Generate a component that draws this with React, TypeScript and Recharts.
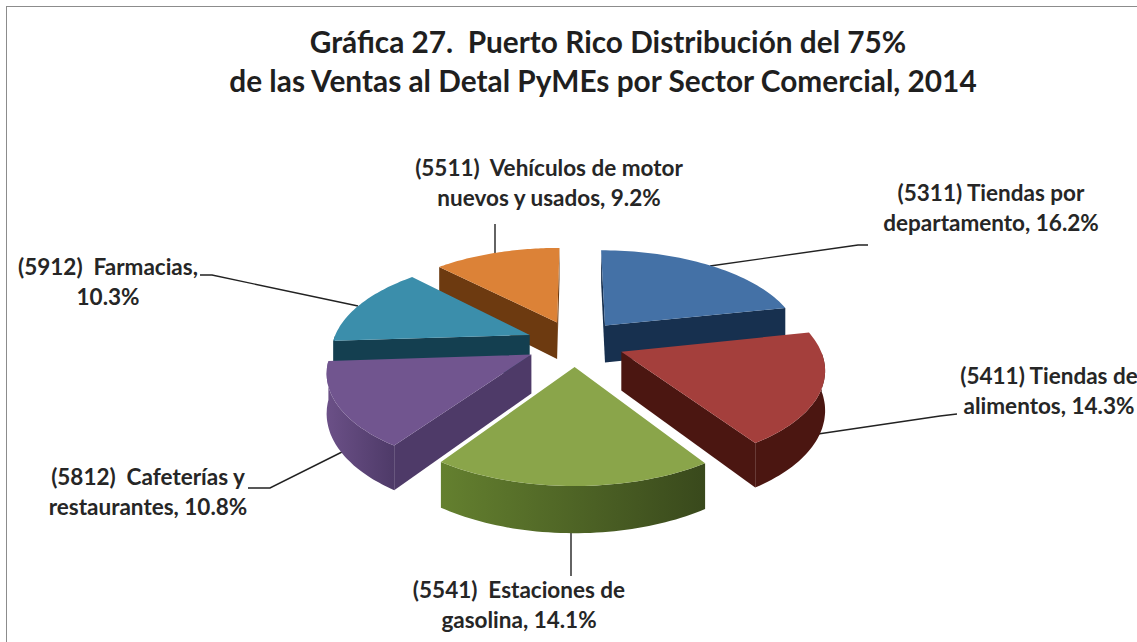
import { PieChart, Pie } from 'recharts';

const CATEGORIES = [
  '(5311) Tiendas por',
  '(5411) Tiendas de',
  '(5541)  Estaciones de',
  '(5812)  Cafeterías y',
  '(5912)  Farmacias,',
  '(5511)  Vehículos de motor',
];
const SECOND_LINES = ['departamento, ', 'alimentos, ', 'gasolina, ', 'restaurantes, ', '', 'nuevos y usados, '];
const VALUES = [16.2, 14.3, 14.1, 10.8, 10.3, 9.2];

const TITLE_LINES = ['Gráfica 27.  Puerto Rico Distribución del 75%', 'de las Ventas al Detal PyMEs por Sector Comercial, 2014'];
const TITLE_SHIFT = [3, -2];

const tableData = CATEGORIES.map((name, i) => ({ name, value: VALUES[i], second: SECOND_LINES[i], index: i }));

// back slices are painted first, the pie is exploded so they overlap
const PAINT_ORDER = [5, 0, 4, 1, 3, 2];

const TOP_COLORS = ['#4471a6', '#a43f3c', '#8aa54a', '#71558f', '#3b8eab', '#dc8237'];
const WALL_COLORS = ['#17304f', '#4b1611', '#4a5f27', '#4e3a68', '#143f50', '#6d3a10'];
const RIM_LEFT = ['#17304f', '#4b1611', '#64802f', '#6b5087', '#143f50', '#6d3a10'];
const RIM_RIGHT = ['#17304f', '#4b1611', '#39491c', '#4e3a68', '#143f50', '#6d3a10'];

// leader lines and where the two label lines are centred
const LEADERS = [
  '710,266 858,245 868,245',
  '818,434 940,416 957,414',
  '571,533 571,576',
  '342,452 270,488 248,488',
  '358,306 212,275 200,275',
  '495,254 495,224',
];
const LABEL_POS = [
  [991, 201],
  [1049, 384],
  [519, 598],
  [148, 485],
  [108, 275],
  [549, 176],
];

const SQUASH = 0.4675;
const PERSPECTIVE = 0.156;
const EXPLODE = 0.25;
const DEPTH = 38;

function project(cx: number, cy: number, r: number, u: number, w: number, drop = 0) {
  const s = 1 / (1 + PERSPECTIVE * w);
  return { x: cx + r * u * s, y: cy - r * SQUASH * w * s + drop * s };
}

const toPoints = (pts: { x: number; y: number }[]) => pts.map((p) => `${p.x.toFixed(1)},${p.y.toFixed(1)}`).join(' ');

function Slice(props: any) {
  const { cx, cy, outerRadius, startAngle, endAngle, midAngle, payload } = props;
  const i = payload.index;
  const rad = (a: number) => ((90 - a) * Math.PI) / 180;
  const ou = EXPLODE * Math.sin(rad(midAngle));
  const ow = EXPLODE * Math.cos(rad(midAngle));
  const at = (deg: number, rim: number, drop = 0) =>
    project(cx, cy, outerRadius, ou + rim * Math.sin(deg), ow + rim * Math.cos(deg), drop);

  const a0 = rad(startAngle);
  const a1 = rad(endAngle);
  const steps = 48;
  const angles: number[] = [];
  for (let k = 0; k <= steps; k++) angles.push(a0 + ((a1 - a0) * k) / steps);

  const apex = at(0, 0);
  const top = [apex, ...angles.map((a) => at(a, 1))];

  // radial walls, only the ones facing the viewer
  const walls: { x: number; y: number }[][] = [];
  const tryWall = (pa: number, pr: number, qa: number, qr: number) => {
    const p = at(pa, pr);
    const q = at(qa, qr);
    if (q.x < p.x) walls.push([p, q, at(qa, qr, DEPTH), at(pa, pr, DEPTH)]);
  };
  tryWall(a0, 0, a0, 1);
  tryWall(a1, 1, a1, 0);

  // curved wall: the part of the rim on the near side
  const front = angles.filter((a) => Math.cos(a) < 0);
  const rim = front.length > 1 ? [...front.map((a) => at(a, 1)), ...[...front].reverse().map((a) => at(a, 1, DEPTH))] : null;
  const gradId = `rim-${i}`;

  const [lx, ly] = LABEL_POS[i];
  const second = payload.second + `${payload.value}%`;

  return (
    <g>
      <defs>
        <linearGradient id={gradId} x1="0" y1="0" x2="1" y2="0">
          <stop offset="0%" stopColor={RIM_LEFT[i]} />
          <stop offset="100%" stopColor={RIM_RIGHT[i]} />
        </linearGradient>
      </defs>
      <polyline points={LEADERS[i]} fill="none" stroke="#222" strokeWidth={1.4} />
      {walls.map((w, k) => (
        <polygon key={k} points={toPoints(w)} fill={WALL_COLORS[i]} />
      ))}
      {rim && <polygon points={toPoints(rim)} fill={`url(#${gradId})`} />}
      <polygon points={toPoints(top)} fill={TOP_COLORS[i]} />
      <text
        textAnchor="middle"
        fontFamily="Lato, sans-serif"
        fontWeight={700}
        fontSize={22.5}
        fill="#262626"
        style={{ whiteSpace: 'pre' }}
      >
        <tspan x={lx} y={ly}>{payload.name}</tspan>
        <tspan x={lx} y={ly + 30}>{second}</tspan>
      </text>
    </g>
  );
}

export default function App() {
  return (
    <div style={{ position: 'absolute', left: 0, top: 0, width: 1137, height: 642, overflow: 'hidden', background: '#fff' }}>
      <div
        style={{
          position: 'absolute',
          left: 6,
          top: 6,
          width: 1300,
          height: 800,
          border: '1.5px solid #8c8c8c',
        }}
      />
      <PieChart
        width={1137}
        height={642}
        margin={{ top: 0, right: 0, bottom: 0, left: 0 }}
        style={{ position: 'absolute', left: 0, top: 0 }}
      >
        {PAINT_ORDER.map((idx) => (
          <Pie
            key={idx}
            data={tableData}
            dataKey="value"
            nameKey="name"
            cx={575}
            cy={343}
            outerRadius={197}
            startAngle={90}
            endAngle={-270}
            stroke="none"
            isAnimationActive={false}
            shape={(p: any) => (p.payload.index === idx ? <Slice {...p} /> : <g />)}
          />
        ))}
      </PieChart>
      <div
        style={{
          position: 'absolute',
          left: 0,
          top: 22,
          width: 1210,
          textAlign: 'center',
          fontFamily: 'Lato, sans-serif',
          fontWeight: 700,
          fontSize: 29.8,
          lineHeight: '39px',
          color: '#1f1f1f',
          whiteSpace: 'pre',
        }}
      >
        {TITLE_LINES.map((t, i) => (
          <div key={t} style={{ position: 'relative', left: TITLE_SHIFT[i] }}>
            {t}
          </div>
        ))}
      </div>
    </div>
  );
}
